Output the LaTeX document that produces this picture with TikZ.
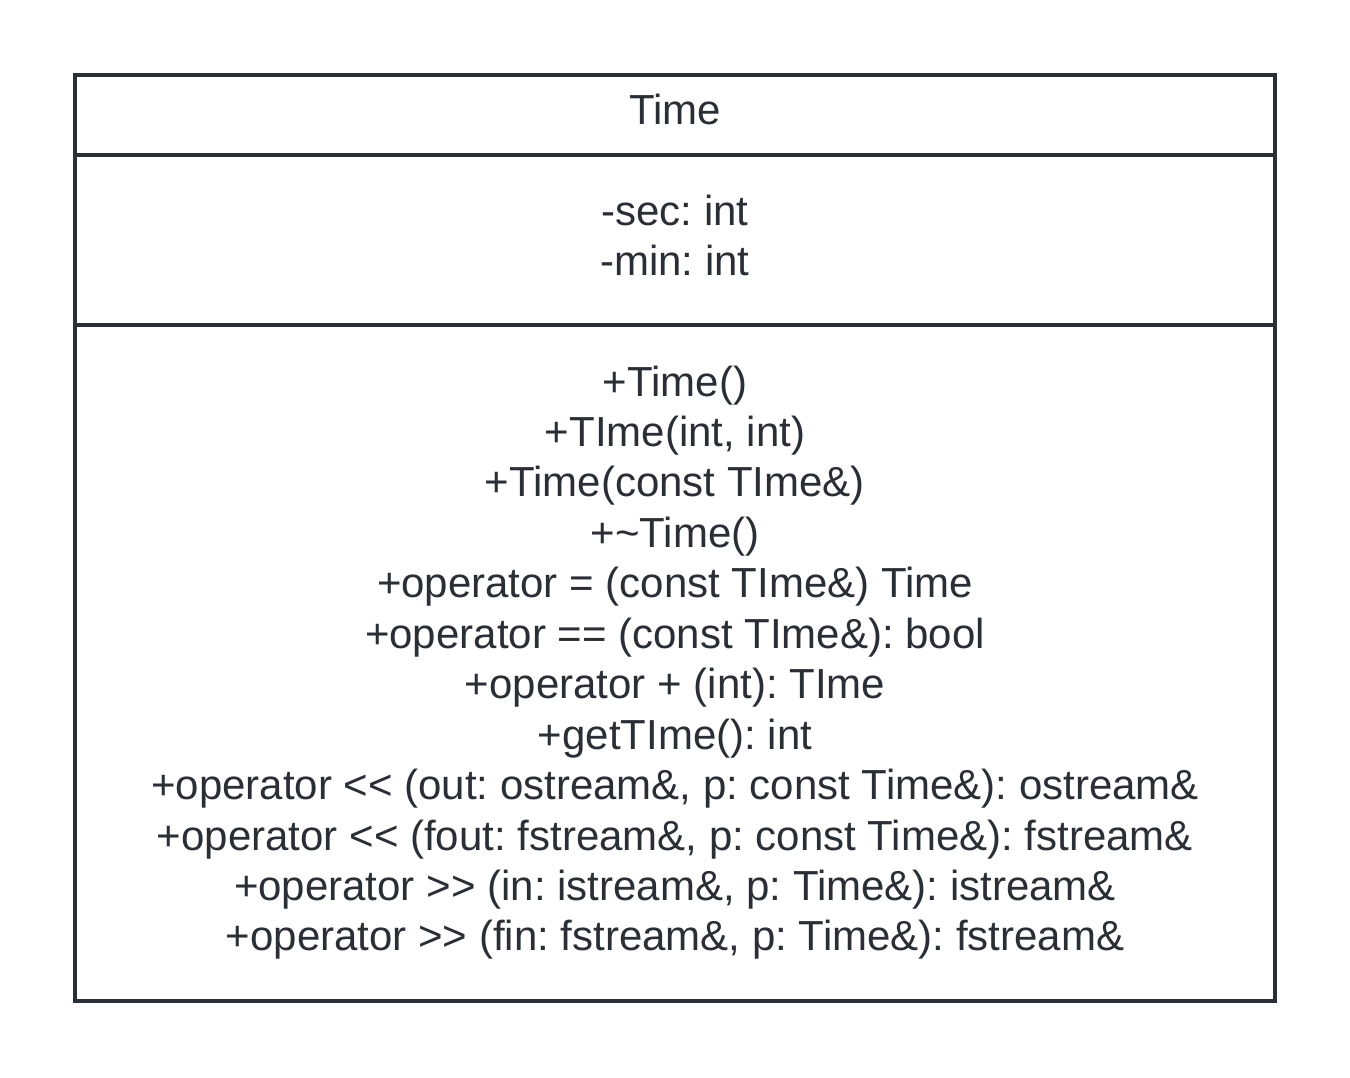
\documentclass[tikz,border=0pt]{standalone}
\usepackage{fontspec}
\setmainfont{Liberation Sans}[Ligatures=TeXOff]
\frenchspacing
\definecolor{ink}{HTML}{2A2E35}
\begin{document}
\begin{tikzpicture}[x=1pt,y=-1pt,
  frame/.style={draw=ink,line width=3.8pt},
  member/.style={anchor=base,inner sep=0pt,text=ink,font=\fontsize{42}{50.4}\selectfont}]
\useasboundingbox[fill=white] (0,0) rectangle (1350,1078);

% class box with its three compartments
\draw[frame] (75,75) rectangle (1275,1001);
\draw[frame] (75,155) -- (1275,155);
\draw[frame] (75,325) -- (1275,325);

% class name
\node[member] (name) at (675,125) {Time};

% attributes
\node[member] (a1) at (675,226) {-sec: int};
\node[member] (a2) at (675,276) {-min: int};

% operations
\foreach \t [count=\i] in {
  {+Time()},
  {+TIme(int, int)},
  {+Time(const TIme\&)},
  {+\char`\~Time()},
  {+operator = (const TIme\&) Time},
  {+operator == (const TIme\&): bool},
  {+operator + (int): TIme},
  {+getTIme(): int},
  {+operator <{}< (out: ostream\&, p: const Time\&): ostream\&},
  {+operator <{}< (fout: fstream\&, p: const Time\&): fstream\&},
  {+operator >{}> (in: istream\&, p: Time\&): istream\&},
  {+operator >{}> (fin: fstream\&, p: Time\&): fstream\&}}
  \node[member] (m\i) at (675,{396+50.45*(\i-1)}) {\t};
\end{tikzpicture}
\end{document}
